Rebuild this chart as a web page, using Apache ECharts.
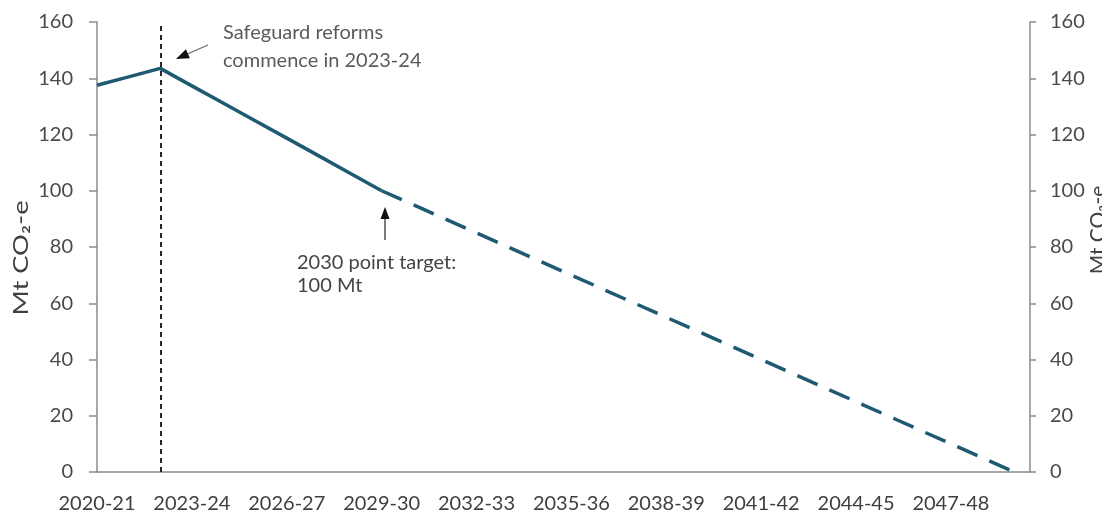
<!DOCTYPE html>
<html>
<head>
<meta charset="utf-8">
<script src="https://cdn.jsdelivr.net/npm/echarts@6/dist/echarts.min.js"></script>
<style>
  html, body { margin: 0; padding: 0; background: #ffffff; }
  #chart { width: 1102px; height: 517px; }
</style>
</head>
<body>
<div id="chart"></div>
<script>
// ---- data ----
const categories = [
  '2020-21','2021-22','2022-23','2023-24','2024-25','2025-26','2026-27','2027-28','2028-29','2029-30',
  '2030-31','2031-32','2032-33','2033-34','2034-35','2035-36','2036-37','2037-38','2038-39','2039-40',
  '2040-41','2041-42','2042-43','2043-44','2044-45','2045-46','2046-47','2047-48','2048-49','2049-50'
];
// Historical / legislated path (solid)
const actualValues = [137.5, 140.5, 143.5, 137.3, 131.1, 124.9, 118.7, 112.5, 106.2, 100];
// Projected path to net zero (dashed), starts at 2029-30
const projectedValues = [100, 95, 90, 85, 80, 75, 70, 65, 60, 55, 50, 45, 40, 35, 30, 25, 20, 15, 10, 5, 0];
const projectedStart = '2029-30';
const reformMarker = '2022-23';
const yTicks = { min: 0, max: 160, step: 20 };
const xLabelStep = 3;

// ---- build series data ----
const solidData = actualValues.map((v, i) => [i, v]);
const p0 = categories.indexOf(projectedStart);
const dashedData = projectedValues.map((v, i) => [p0 + i, v]);

const chart = echarts.init(document.getElementById('chart'), null, { renderer: 'canvas' });

const FONT = 'Lato, "Open Sans", sans-serif';
const LINE_COLOR = '#1f5a72';
const AXIS_COLOR = '#8c8c8c';

function arrow(x1, y1, x2, y2, headLen, headW, shaftColor, shaftW) {
  const ang = Math.atan2(y2 - y1, x2 - x1);
  const bx = x2 - headLen * Math.cos(ang), by = y2 - headLen * Math.sin(ang);
  const px = -Math.sin(ang) * headW / 2, py = Math.cos(ang) * headW / 2;
  return [
    { type: 'line', silent: true, shape: { x1: x1, y1: y1, x2: bx, y2: by },
      style: { stroke: shaftColor, lineWidth: shaftW } },
    { type: 'polygon', silent: true,
      shape: { points: [[x2, y2], [bx + px, by + py], [bx - px, by - py]] },
      style: { fill: '#111' } }
  ];
}

const option = {
  animation: false,
  backgroundColor: '#ffffff',
  grid: { left: 97, right: 72, top: 22, bottom: 45, containLabel: false },
  xAxis: {
    type: 'value',
    min: 0,
    max: categories.length - 0.5,
    interval: xLabelStep,
    axisLine: { show: true, lineStyle: { color: AXIS_COLOR, width: 1.5 } },
    axisTick: { show: false },
    splitLine: { show: false },
    axisLabel: {
      margin: 22,
      fontFamily: FONT, fontSize: 20, color: '#3f3f3f',
      formatter: function (v) {
        return (Number.isInteger(v) && v % xLabelStep === 0 && categories[v]) ? categories[v] : '';
      }
    }
  },
  yAxis: [
    {
      type: 'value', position: 'left',
      min: yTicks.min, max: yTicks.max, interval: yTicks.step,
      axisLine: { show: true, lineStyle: { color: AXIS_COLOR, width: 1.5 } },
      axisTick: { show: true, length: 8, lineStyle: { color: AXIS_COLOR, width: 1.5 } },
      splitLine: { show: false },
      axisLabel: { margin: 24, fontFamily: FONT, fontSize: 20, color: '#4a4a4a' }
    },
    {
      type: 'value', position: 'right',
      min: yTicks.min, max: yTicks.max, interval: yTicks.step,
      axisLine: { show: true, lineStyle: { color: AXIS_COLOR, width: 1.5 } },
      axisTick: { show: true, length: 6, lineStyle: { color: AXIS_COLOR, width: 1.5 } },
      splitLine: { show: false },
      axisLabel: { margin: 20, fontFamily: FONT, fontSize: 20, color: '#4a4a4a' }
    }
  ],
  series: [
    {
      name: 'Safeguard baseline', type: 'line', yAxisIndex: 0,
      data: solidData, showSymbol: false, symbol: 'none',
      lineStyle: { color: LINE_COLOR, width: 3.5, cap: 'butt', join: 'round' },
      markLine: {
        silent: true, symbol: 'none', animation: false,
        label: { show: false },
        lineStyle: { color: '#111111', width: 1.8, type: [5, 4] },
        data: [{ xAxis: categories.indexOf(reformMarker) }]
      },
      z: 3
    },
    {
      name: 'Projected', type: 'line', yAxisIndex: 0,
      data: dashedData, showSymbol: false, symbol: 'none',
      lineStyle: { color: LINE_COLOR, width: 3.5, type: [22, 13], cap: 'butt' },
      z: 3
    }
  ],
  graphic: [
    { type: 'text', silent: true, left: 223, top: 19,
      style: { text: 'Safeguard reforms\ncommence in 2023-24', fontFamily: FONT, fontSize: 20,
               lineHeight: 28, fill: '#5a5a5a' } },
    { type: 'text', silent: true, left: 297, top: 251,
      style: { text: '2030 point target:\n100 Mt', fontFamily: FONT, fontSize: 20,
               lineHeight: 23, fill: '#444444' } },
    { type: 'text', silent: true, x: 21, y: 258, rotation: Math.PI / 2, scaleX: 1.3,
      style: { text: 'Mt CO\u2082-e', fontFamily: FONT, fontSize: 21, fill: '#404040',
               align: 'center', verticalAlign: 'middle' } },
    { type: 'text', silent: true, x: 1098, y: 230, rotation: Math.PI / 2,
      style: { text: 'Mt CO\u2082-e', fontFamily: FONT, fontSize: 21, fill: '#404040',
               align: 'center', verticalAlign: 'middle' } }
  ]
    .concat(arrow(208, 45, 176, 59, 13, 10, '#666', 1.2))
    .concat(arrow(385, 240, 385, 207, 12, 9, '#222', 1.2))
};

chart.setOption(option);
</script>
</body>
</html>
